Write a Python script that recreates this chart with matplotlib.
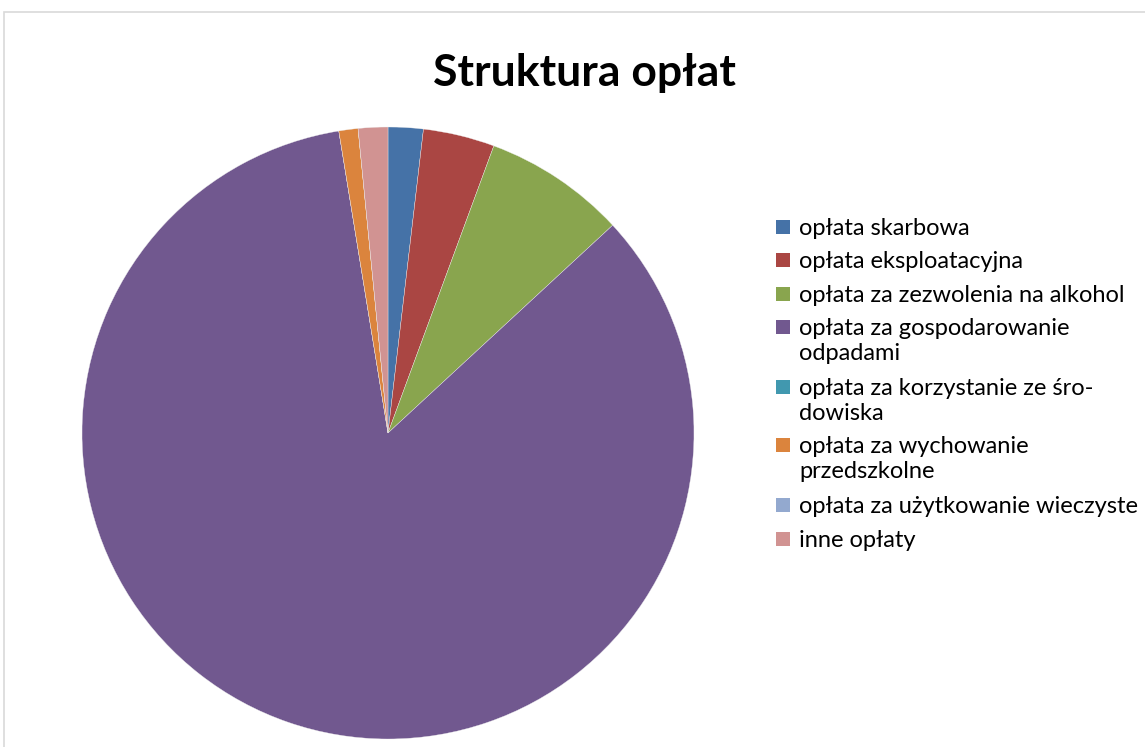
import matplotlib
matplotlib.use("Agg")
import matplotlib.pyplot as plt
from matplotlib.patches import Rectangle

categories = [
    "opłata skarbowa",
    "opłata eksploatacyjna",
    "opłata za zezwolenia na alkohol",
    "opłata za gospodarowanie\nodpadami",
    "opłata za korzystanie ze śro-\ndowiska",
    "opłata za wychowanie\nprzedszkolne",
    "opłata za użytkowanie wieczyste",
    "inne opłaty",
]
values = [1.85, 3.77, 7.5, 84.29, 0.0, 1.01, 0.0, 1.56]
colors = ["#4572A7", "#AA4643", "#89A54E", "#71588F", "#4198AF", "#DB843D", "#93A9CF", "#D19392"]
title = "Struktura opłat"

W, H = 1145, 747
fig = plt.figure(figsize=(W / 100, H / 100), dpi=100)
fig.patch.set_facecolor("white")

# chart area border
fig.patches.append(Rectangle((4 / W, -0.1), 1.2, (H - 12) / H + 0.1, transform=fig.transFigure,
                             fill=False, edgecolor="#d9d9d9", linewidth=1.2))

cx, cy, R = 388, 433, 306
ax = fig.add_axes([(cx - R) / W, (H - cy - R) / H, 2 * R / W, 2 * R / H])
ax.pie(values, colors=colors, startangle=90, counterclock=False, radius=1.0,
       wedgeprops=dict(edgecolor="#f0f0f0", linewidth=0.25), frame=False)
ax.set_xlim(-1, 1)
ax.set_ylim(-1, 1)
ax.set_aspect("equal")
ax.axis("off")

fig.text(584 / W, 1 - 86 / H, title, ha="center", va="baseline",
         fontsize=32, fontweight="bold", family="Lato")

# legend
baselines = [235, 268, 302, 335, 395, 453, 513, 547]
for lab, col, b in zip(categories, colors, baselines):
    fig.patches.append(Rectangle((776 / W, 1 - (b - 1) / H), 14 / W, 14 / H,
                                 transform=fig.transFigure, facecolor=col, edgecolor="none"))
    lines = lab.split("\n")
    for i, ln in enumerate(lines):
        fig.text(799 / W, 1 - (b + 25 * i) / H, ln, ha="left", va="baseline",
                 fontsize=17, family="Lato", color="black")

fig.savefig("out.png", dpi=100)
